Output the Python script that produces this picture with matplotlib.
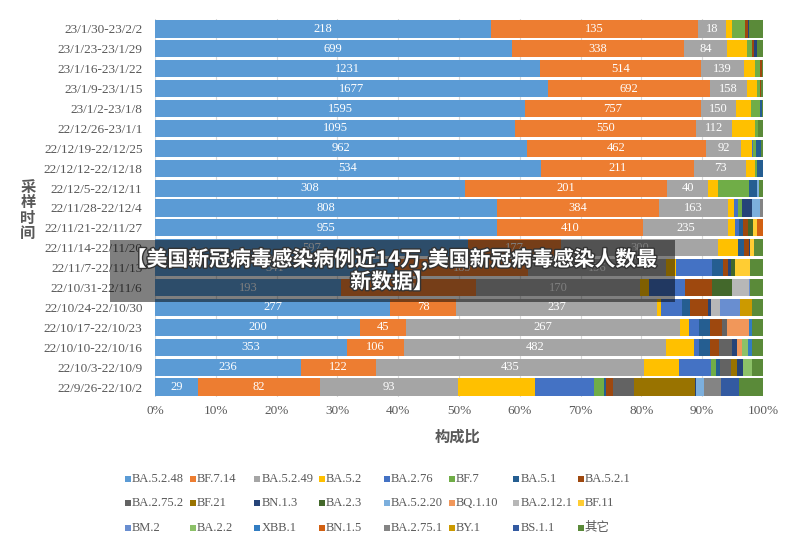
import numpy as np
import matplotlib
matplotlib.use('Agg')
import matplotlib.pyplot as plt
from matplotlib.patches import Rectangle
import matplotlib.patheffects as pe

# sampling weeks, top row first
weeks = ['23/1/30-23/2/2', '23/1/23-23/1/29', '23/1/16-23/1/22', '23/1/9-23/1/15',
         '23/1/2-23/1/8', '22/12/26-23/1/1', '22/12/19-22/12/25', '22/12/12-22/12/18',
         '22/12/5-22/12/11', '22/11/28-22/12/4', '22/11/21-22/11/27', '22/11/14-22/11/20',
         '22/11/7-22/11/13', '22/10/31-22/11/6', '22/10/24-22/10/30', '22/10/17-22/10/23',
         '22/10/10-22/10/16', '22/10/3-22/10/9', '22/9/26-22/10/2']

variants = ['BA.5.2.48', 'BF.7.14', 'BA.5.2.49', 'BA.5.2', 'BA.2.76', 'BF.7', 'BA.5.1', 'BA.5.2.1',
            'BA.2.75.2', 'BF.21', 'BN.1.3', 'BA.2.3', 'BA.5.2.20', 'BQ.1.10', 'BA.2.12.1', 'BF.11',
            'BM.2', 'BA.2.2', 'XBB.1', 'BN.1.5', 'BA.2.75.1', 'BY.1', 'BS.1.1', '其它']

colors = ['#5b9bd5', '#ed7d31', '#a5a5a5', '#ffc000', '#4472c4', '#70ad47', '#255e91', '#9e480e',
          '#636363', '#997300', '#264478', '#43682b', '#7cafdd', '#f1975a', '#b7b7b7', '#ffcd33',
          '#698ed0', '#8cc168', '#327dc2', '#d26012', '#848484', '#cc9a00', '#335aa1', '#5a8a39']

# counts per variant, one value per week (same order as weeks)
ba5248 = [218, 699, 1231, 1677, 1595, 1095, 962, 534, 308, 808, 955, 597, 341, 193, 277, 200, 353, 236, 29]
bf714 = [135, 338, 514, 692, 757, 550, 462, 211, 201, 384, 410, 177, 189, 141, 78, 45, 106, 122, 82]
ba5249 = [18, 84, 139, 158, 150, 112, 92, 73, 40, 163, 235, 300, 196, 170, 237, 267, 482, 435, 93]
ba52 = [4, 39, 35, 43, 65, 70, 28, 12, 10, 14, 22, 39, 14, 9, 5, 9, 52, 57, 52]
ba276 = [0, 0, 0, 0, 0, 0, 3, 0, 0, 10, 10, 0, 50, 38, 25, 10, 10, 52, 40]
bf7 = [8, 10, 16, 13, 39, 9, 8, 3, 31, 10, 0, 0, 0, 0, 0, 0, 0, 8, 7]
ba51 = [0, 0, 0, 0, 8, 0, 12, 8, 8, 0, 11, 10, 16, 0, 9, 10, 19, 7, 1]
ba521 = [2, 4, 5, 4, 0, 0, 0, 0, 0, 0, 14, 10, 7, 28, 21, 12, 17, 0, 5]
ba2752 = [0, 0, 0, 0, 0, 0, 0, 0, 0, 0, 0, 0, 0, 0, 0, 5, 23, 17, 14]
bf21 = [0, 0, 0, 0, 0, 0, 0, 0, 0, 0, 0, 0, 0, 0, 0, 0, 0, 10, 41]
bn13 = [1, 6, 0, 0, 0, 0, 0, 0, 0, 24, 0, 3, 4, 0, 4, 0, 10, 9, 1]
ba23 = [0, 0, 0, 0, 0, 0, 0, 0, 0, 0, 14, 0, 6, 21, 0, 0, 0, 0, 0]
ba5220 = [0, 0, 0, 0, 0, 0, 0, 0, 2, 18, 0, 0, 0, 0, 0, 0, 0, 0, 5]
bq110 = [0, 0, 0, 0, 0, 0, 0, 0, 0, 0, 0, 0, 0, 0, 0, 21, 10, 0, 0]
ba2121 = [0, 0, 0, 0, 0, 0, 0, 0, 0, 0, 0, 0, 0, 17, 10, 0, 0, 0, 0]
bf11 = [0, 0, 0, 0, 0, 0, 0, 0, 0, 0, 10, 6, 21, 0, 0, 0, 0, 0, 0]
bm2 = [0, 0, 0, 0, 0, 0, 0, 0, 0, 0, 0, 0, 0, 2, 24, 0, 0, 0, 0]
ba22 = [0, 0, 0, 0, 0, 0, 0, 0, 0, 0, 0, 0, 0, 0, 0, 0, 11, 15, 0]
xbb1 = [0, 0, 0, 0, 0, 0, 0, 0, 0, 0, 0, 0, 0, 0, 0, 3, 7, 0, 0]
bn15 = [0, 0, 0, 0, 0, 0, 0, 0, 0, 0, 18, 0, 0, 0, 0, 0, 0, 0, 0]
ba2751 = [0, 0, 0, 0, 0, 0, 0, 0, 0, 7, 0, 0, 0, 0, 0, 0, 0, 0, 12]
by1 = [0, 0, 0, 0, 0, 0, 0, 0, 0, 0, 0, 0, 0, 0, 14, 0, 0, 0, 0]
bs11 = [0, 0, 0, 0, 0, 0, 0, 0, 0, 0, 0, 0, 0, 0, 0, 0, 0, 0, 12]
others = [9, 12, 4, 8, 6, 14, 5, 0, 4, 0, 0, 18, 19, 13, 13, 11, 20, 18, 16]

series = [ba5248, bf714, ba5249, ba52, ba276, bf7, ba51, ba521, ba2752, bf21, bn13, ba23,
          ba5220, bq110, ba2121, bf11, bm2, ba22, xbb1, bn15, ba2751, by1, bs11, others]

title = '【美国新冠病毒感染病例近14万,美国新冠病毒感染人数最\n新数据】'

# -------------

serif = 'Liberation Serif'
cjk = 'Noto Sans CJK SC'
grey_txt = '#595959'

counts = np.array(series, dtype=float)
shares = counts / counts.sum(axis=0)

W, H = 787, 544
fig = plt.figure(figsize=(W / 100, H / 100), dpi=100)
ax = fig.add_axes([155 / W, 1 - 397 / H, 608 / W, 378 / H])

y = np.arange(len(weeks))
left = np.zeros(len(weeks))
for i, name in enumerate(variants):
    ax.barh(y, shares[i], left=left, height=0.86, color=colors[i], zorder=2)
    if i < 3:
        for j in range(len(weeks)):
            ax.text(left[j] + shares[i][j] / 2, y[j], str(int(counts[i][j])),
                    ha='center', va='center', color='white', fontsize=9,
                    family=serif, zorder=3)
    left += shares[i]

ax.set_xlim(0, 1)
ax.set_ylim(len(weeks) - 0.5, -0.5)
ax.set_xticks(np.linspace(0, 1, 11))
ax.set_xticklabels([f'{int(round(v * 100))}%' for v in np.linspace(0, 1, 11)])
ax.set_yticks(y)
ax.set_yticklabels(weeks)
for lab in ax.get_xticklabels() + ax.get_yticklabels():
    lab.set_family(serif)
    lab.set_fontsize(9.5)
    lab.set_color(grey_txt)
ax.tick_params(axis='x', length=0, pad=6)
ax.tick_params(axis='y', length=0, pad=9)
ax.xaxis.grid(True, color='#d9d9d9', lw=0.8, zorder=0)
ax.set_axisbelow(True)
for s in ax.spines.values():
    s.set_visible(False)

# axis titles
fig.text(28 / W, 1 - 210 / H, '采\n样\n时\n间', ha='center', va='center', fontsize=11,
         family=cjk, weight='bold', color=grey_txt, linespacing=0.95)
fig.text(458 / W, 1 - 437 / H, '构成比', ha='center', va='center', fontsize=11,
         family=cjk, weight='bold', color=grey_txt)

# legend, 8 columns x 3 rows
for i, name in enumerate(variants):
    r, c = divmod(i, 8)
    cx = 128 + 64.7 * c
    cy = 479 + 24.3 * r
    fig.add_artist(Rectangle(((cx - 3) / W, 1 - (cy + 3) / H), 6 / W, 6 / H,
                             transform=fig.transFigure, color=colors[i], lw=0))
    fig.text((cx + 4) / W, 1 - cy / H, name, ha='left', va='center', fontsize=9,
             family=[serif, cjk], color=grey_txt)

# overlay banner
fig.add_artist(Rectangle((110 / W, 1 - 302 / H), 565 / W, 62 / H, transform=fig.transFigure,
                         facecolor='black', alpha=0.5, lw=0, zorder=10))
fig.text(392 / W, 1 - 270 / H, title, ha='center', va='center', fontsize=15, weight='bold',
         family=cjk, color='white', linespacing=1.05, zorder=11,
         path_effects=[pe.withStroke(linewidth=2, foreground='#333333')])

plt.savefig('out.png', dpi=100)
